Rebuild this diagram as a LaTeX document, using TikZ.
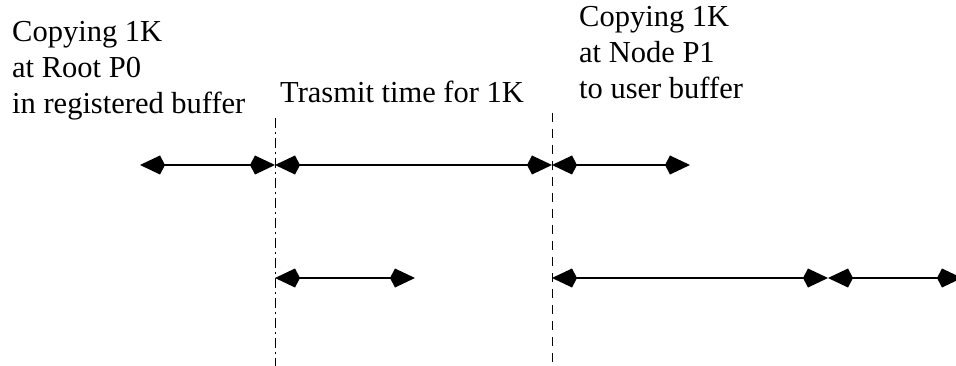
\documentclass[tikz,border=0pt]{standalone}
\usepackage{fontspec}
\setmainfont{Liberation Serif}
\usetikzlibrary{arrows.meta}
\begin{document}
\begin{tikzpicture}[x=1pt,y=-1pt,
  span/.style={line width=1.6pt,{Kite[length=25pt,width=19pt,inset=5pt]}-{Kite[length=25pt,width=19pt,inset=5pt]}},
  lbl/.style={font=\fontsize{30.5}{36}\selectfont,inner sep=0pt,align=left,anchor=base west}]
\useasboundingbox (0,0) rectangle (956,366);
% vertical markers
\coordinate (v1t) at (275,118);
\coordinate (v1b) at (275,366);
\coordinate (v2t) at (552,113);
\coordinate (v2b) at (552,366);
\draw[line width=1pt,dash pattern=on 10pt off 4pt on 2pt off 4pt] (v1t) -- (v1b);
\draw[line width=1pt,dash pattern=on 9pt off 7pt] (v2t) -- (v2b);
% row 1
\coordinate (a0) at (140,165);
\coordinate (a1) at (275,165);
\coordinate (a2) at (552,165);
\coordinate (a3) at (690,165);
\draw[span] (a0) -- (a1);
\draw[span] (a1) -- (a2);
\draw[span] (a2) -- (a3);
% row 2
\coordinate (b0) at (275,278);
\coordinate (b1) at (415,278);
\coordinate (b2) at (552,278);
\coordinate (b3) at (828,278);
\coordinate (b4) at (962,278);
\draw[span] (b0) -- (b1);
\draw[span] (b2) -- (b3);
\draw[span] (b3) -- (b4);
% labels (anchor at baseline of last line)
\node[lbl] (t1) at (12,114) {Copying 1K\\at Root P0\\in registered buffer};
\node[lbl] (t2) at (280,103) {Trasmit time for 1K};
\node[lbl] (t3) at (579,99) {Copying 1K\\at Node P1\\to user buffer};
\end{tikzpicture}
\end{document}
